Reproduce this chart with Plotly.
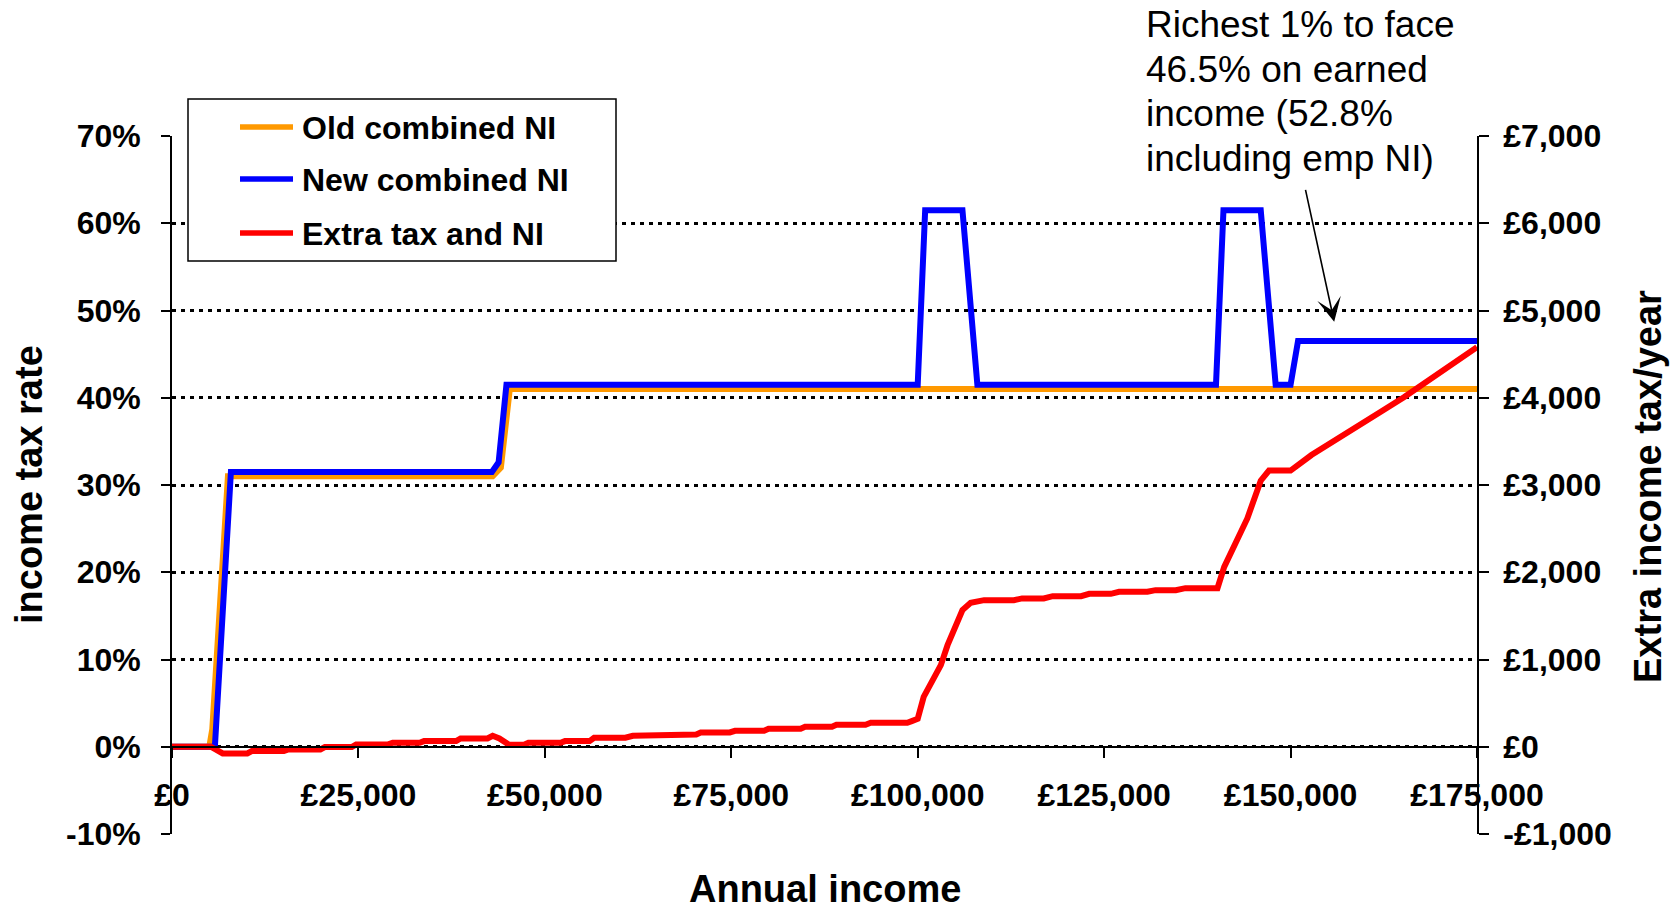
import plotly.graph_objects as go

# ---------------- data ----------------
old_income = [0, 5000, 5400, 7500, 43000, 44100, 45300, 175000]
old_rate = [0, 0, 2, 31, 31, 32, 41, 41]

new_income = [0, 5750, 7900, 42900, 43800, 44850, 100000, 101000, 106000, 108000,
              140000, 141000, 146000, 148000, 150000, 151000, 175000]
new_rate = [0, 0, 31.5, 31.5, 32.6, 41.5, 41.5, 61.5, 61.5, 41.5,
            41.5, 61.5, 61.5, 41.5, 41.5, 46.5, 46.5]

extra_income = [0, 5200, 6800, 10100, 10700, 15000, 15600, 19900, 20500, 24100,
                24700, 29000, 29600, 33200, 33800, 38100, 38700, 42300, 43000, 43900,
                45200, 47200, 47800, 52100, 52700, 56000, 56600, 60800, 61800, 66100,
                66700, 70300, 70900, 74800, 75500, 79400, 80000, 84300, 84900, 88500,
                89100, 93000, 93700, 98600, 99200, 100000, 100800, 103100, 104000, 106000,
                107100, 108900, 112900, 114000, 116900, 118100, 121900, 123000, 125900, 127000,
                130800, 131900, 134600, 135900, 140200, 141100, 144200, 146000, 147100, 150000,
                152800, 155800, 158900, 162100, 165200, 168300, 171400, 175000]
extra_tax = [0, 0, -76, -76, -50, -50, -31, -31, -4, -4,
             27, 27, 46, 46, 65, 65, 95, 95, 126, 95,
             23, 23, 46, 46, 65, 65, 103, 103, 126, 126,
             141, 141, 164, 164, 183, 183, 206, 206, 229, 229,
             252, 252, 275, 275, 294, 320, 571, 935, 1164, 1566,
             1650, 1680, 1680, 1700, 1700, 1726, 1726, 1753, 1753, 1776,
             1776, 1795, 1795, 1818, 1818, 2062, 2617, 3050, 3165, 3165,
             3344, 3510, 3676, 3840, 4005, 4184, 4356, 4580]

series_names = ["Old combined NI", "New combined NI", "Extra tax and NI"]
series_colors = ["#FF9900", "#0000FF", "#FF0000"]

x_tick_vals = [0, 25000, 50000, 75000, 100000, 125000, 150000, 175000]
x_tick_text = ["£0", "£25,000", "£50,000", "£75,000", "£100,000", "£125,000", "£150,000", "£175,000"]
rate_tick_vals = [-10, 0, 10, 20, 30, 40, 50, 60, 70]
rate_tick_text = ["-10%", "0%", "10%", "20%", "30%", "40%", "50%", "60%", "70%"]
gbp_tick_vals = [-1000, 0, 1000, 2000, 3000, 4000, 5000, 6000, 7000]
gbp_tick_text = ["-£1,000", "£0", "£1,000", "£2,000", "£3,000", "£4,000", "£5,000", "£6,000", "£7,000"]

note_lines = ["Richest 1% to face", "46.5% on earned", "income (52.8%", "including emp NI)"]

# ---------------- layout geometry (pixels) ----------------
W, H = 1677, 912
PL, PR, PT, PB = 172, 1477, 136, 834


def fx(px):
    return px / W


def fy(py):
    return 1 - py / H


FONT = "Liberation Sans, Arial, sans-serif"
tick_font = dict(family=FONT, size=32, color="black", weight="bold")
LW = 6

ydom = [fy(PB), fy(PT)]
zero_pos = ydom[0] + (ydom[1] - ydom[0]) * (0 - (-10)) / 80.0

fig = go.Figure()
fig.add_trace(go.Scatter(x=old_income, y=old_rate, mode="lines", name=series_names[0],
                         line=dict(color=series_colors[0], width=LW), showlegend=False, yaxis="y"))
fig.add_trace(go.Scatter(x=new_income, y=new_rate, mode="lines", name=series_names[1],
                         line=dict(color=series_colors[1], width=LW), showlegend=False, yaxis="y"))
fig.add_trace(go.Scatter(x=extra_income, y=extra_tax, mode="lines", name=series_names[2],
                         line=dict(color=series_colors[2], width=LW), showlegend=False, yaxis="y2"))

fig.update_layout(
    width=W, height=H, autosize=False,
    margin=dict(l=0, r=0, t=0, b=0),
    paper_bgcolor="white", plot_bgcolor="white",
    font=dict(family=FONT, color="black"),
    xaxis=dict(domain=[fx(PL), fx(PR)], range=[0, 175000], anchor="free", position=zero_pos,
               tickmode="array", tickvals=x_tick_vals, ticktext=x_tick_text,
               ticks="outside", ticklen=10, tickwidth=1.5, tickcolor="black",
               showline=True, linecolor="black", linewidth=1.8,
               showgrid=False, zeroline=False, tickfont=tick_font,
               ticklabelstandoff=10, automargin=False),
    yaxis=dict(domain=ydom, range=[-10, 70], anchor="x", side="left",
               tickmode="array", tickvals=rate_tick_vals, ticktext=rate_tick_text,
               ticks="outside", ticklen=9, tickwidth=1.5, tickcolor="black",
               showline=True, linecolor="black", linewidth=1.8,
               showgrid=True, gridcolor="black", gridwidth=2.5, griddash="4px,5px",
               zeroline=False, tickfont=tick_font, ticklabelstandoff=14, automargin=False),
    yaxis2=dict(domain=ydom, range=[-1000, 7000], anchor="x", overlaying="y", side="right",
                tickmode="array", tickvals=gbp_tick_vals, ticktext=gbp_tick_text,
                ticks="outside", ticklen=10, tickwidth=1.5, tickcolor="black",
                showline=True, linecolor="black", linewidth=1.8,
                showgrid=False, zeroline=False, tickfont=tick_font,
                ticklabelstandoff=8, automargin=False),
)

shapes = []
annotations = []

# legend box drawn by hand (to match the long line samples)
shapes.append(dict(type="rect", xref="paper", yref="paper",
                   x0=fx(188), x1=fx(616), y0=fy(261), y1=fy(99),
                   line=dict(color="black", width=1.5), fillcolor="white", layer="above"))
legend_rows = [127, 179, 233]
for name, color, row in zip(series_names, series_colors, legend_rows):
    shapes.append(dict(type="line", xref="paper", yref="paper",
                       x0=fx(240), x1=fx(293), y0=fy(row), y1=fy(row),
                       line=dict(color=color, width=5.5), layer="above"))
    annotations.append(dict(xref="paper", yref="paper", x=fx(300), y=fy(row + 1),
                            xanchor="left", yanchor="middle", showarrow=False,
                            text=name, font=dict(family=FONT, size=32, color="black", weight="bold")))

# axis titles
annotations.append(dict(xref="paper", yref="paper", x=fx((PL + PR) / 2), y=0,
                        xanchor="center", yanchor="bottom", showarrow=False, text="Annual income",
                        font=dict(family=FONT, size=38, color="black", weight="bold")))
annotations.append(dict(xref="paper", yref="paper", x=fx(29), y=fy(485),
                        xanchor="center", yanchor="middle", showarrow=False, text="income tax rate",
                        textangle=-90, font=dict(family=FONT, size=38, color="black", weight="bold")))
annotations.append(dict(xref="paper", yref="paper", x=fx(1648), y=fy(487),
                        xanchor="center", yanchor="middle", showarrow=False, text="Extra income tax/year",
                        textangle=-90, font=dict(family=FONT, size=38, color="black", weight="bold")))

# note text
note_centers = [23.5, 68, 112.5, 157]
for line, cy in zip(note_lines, note_centers):
    annotations.append(dict(xref="paper", yref="paper", x=fx(1144), y=fy(cy + 1),
                            xanchor="left", yanchor="middle", showarrow=False, text=line,
                            font=dict(family=FONT, size=37, color="black")))

# arrow
annotations.append(dict(xref="x", yref="y", x=155850, y=48.7,
                        axref="x", ayref="y", ax=151960, ay=64.0,
                        text="", showarrow=True, arrowhead=3, arrowsize=2.5,
                        arrowwidth=1.6, arrowcolor="black", standoff=0))

fig.update_layout(shapes=shapes, annotations=annotations)

fig.write_html("out.html", include_plotlyjs=True, config={"displayModeBar": False})
